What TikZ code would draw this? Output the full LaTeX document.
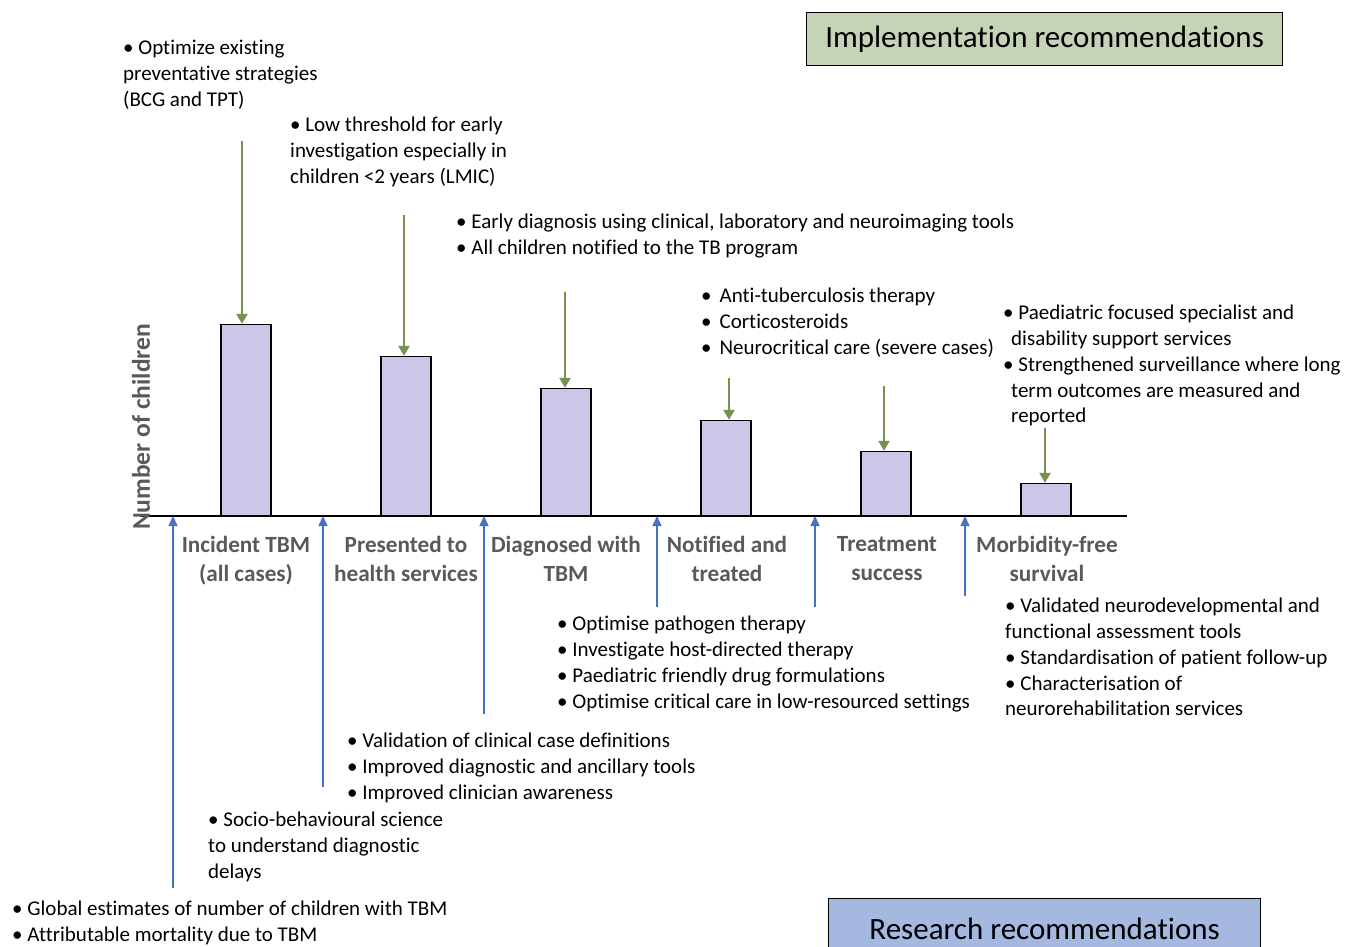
\documentclass[tikz,border=0pt]{standalone}
\usepackage{fontspec}
\setmainfont[Ligatures=NoCommon]{Carlito}
\usetikzlibrary{arrows.meta}
\definecolor{barfill}{RGB}{204,199,232}
\definecolor{impgreen}{RGB}{118,146,80}
\definecolor{implfill}{RGB}{197,211,183}
\definecolor{resfill}{RGB}{164,184,224}
\definecolor{arrblue}{RGB}{68,114,196}
\definecolor{labgray}{RGB}{89,89,89}
\begin{document}
\begin{tikzpicture}[x=1pt,y=-1pt,
  bar/.style={draw=black,line width=1.2pt,fill=barfill,minimum width=50pt,inner sep=0pt,anchor=south},
  garrow/.style={draw=impgreen,line width=2.4pt,-{Triangle[width=11pt,length=10pt]}},
  barrow/.style={draw=arrblue,line width=1.5pt,-{Triangle[width=9pt,length=10pt]}},
  cat/.style={font=\fontsize{23.2}{29}\selectfont\bfseries,text=labgray,align=center,inner sep=0pt,anchor=north},
  txt/.style={font=\fontsize{21}{25.8}\selectfont,align=left,inner sep=0pt,anchor=north west},
  recbox/.style={draw=black,line width=1.2pt,inner sep=0pt,font=\fontsize{31}{36}\selectfont}
]
\useasboundingbox (0,0) rectangle (1358,947);
% recommendation boxes
\node[recbox,fill=implfill,minimum width=476pt,minimum height=53pt,anchor=north west] (impl) at (806,12) {\raisebox{-2pt}{Implementation recommendations}};
\node[recbox,fill=resfill,minimum width=432pt,minimum height=60pt,anchor=north west] (res) at (828,898) {\raisebox{-3pt}{Research recommendations}};
% axis
\coordinate (ax0) at (140,516);
\coordinate (ax1) at (1127,516);
\draw[line width=1.2pt] (ax0) -- (ax1);
\node[rotate=90,font=\fontsize{25.5}{30}\selectfont\bfseries,text=labgray] (ylab) at (141,427) {Number of children};
% bars
\node[bar,minimum height=191pt] (b1) at (246,516) {};
\node[bar,minimum height=159pt] (b2) at (406,516) {};
\node[bar,minimum height=127pt] (b3) at (566,516) {};
\node[bar,minimum height=95pt] (b4) at (726,516) {};
\node[bar,minimum height=64pt] (b5) at (886,516) {};
\node[bar,minimum height=32pt] (b6) at (1046,516) {};
% category labels
\node[cat] (c1) at (246,536) {Incident TBM\\(all cases)};
\node[cat] (c2) at (406,536) {Presented to\\health services};
\node[cat] (c3) at (566,536) {Diagnosed with\\TBM};
\node[cat] (c4) at (727,536) {Notified and\\treated};
\node[cat] (c5) at (887,536) {Treatment\\success};
\node[cat] (c6) at (1047,536) {Morbidity-free\\survival};
% implementation texts
\node[txt] (t1) at (123,40) {• Optimize existing\\preventative strategies\\(BCG and TPT)};
\node[txt] (t2) at (290,117) {• Low threshold for early\\investigation especially in\\children <2 years (LMIC)};
\node[txt] (t3) at (456,214) {• Early diagnosis using clinical, laboratory and neuroimaging tools\\• All children notified to the TB program};
\node[txt] (t4) at (701,288) {•\hspace{8pt}Anti-tuberculosis therapy\\•\hspace{8pt}Corticosteroids\\•\hspace{8pt}Neurocritical care (severe cases)};
\node[txt] (t5) at (1003,305) {• Paediatric focused specialist and\\\hspace{8pt}disability support services\\• Strengthened surveillance where long\\\hspace{8pt}term outcomes are measured and\\\hspace{8pt}reported};
% research texts
\node[txt] (r1) at (557,616) {• Optimise pathogen therapy\\• Investigate host-directed therapy\\• Paediatric friendly drug formulations\\• Optimise critical care in low-resourced settings};
\node[txt] (r2) at (1005,598) {• Validated neurodevelopmental and\\functional assessment tools\\• Standardisation of patient follow-up\\• Characterisation of\\neurorehabilitation services};
\node[txt] (r3) at (347,733) {• Validation of clinical case definitions\\• Improved diagnostic and ancillary tools\\• Improved clinician awareness};
\node[txt] (r4) at (208,812) {• Socio-behavioural science\\to understand diagnostic\\delays};
\node[txt] (r5) at (12,901) {• Global estimates of number of children with TBM\\• Attributable mortality due to TBM};
% green arrows
\coordinate (g1) at (242,141);
\coordinate (g2) at (404,215);
\coordinate (g3) at (565,292);
\coordinate (g4) at (729,378);
\coordinate (g5) at (884,386);
\coordinate (g6) at (1045,428);
\draw[garrow] (g1) -- (g1 |- b1.north);
\draw[garrow] (g2) -- (g2 |- b2.north);
\draw[garrow] (g3) -- (g3 |- b3.north);
\draw[garrow] (g4) -- (g4 |- b4.north);
\draw[garrow] (g5) -- (g5 |- b5.north);
\draw[garrow] (g6) -- (g6 |- b6.north);
% blue arrows
\coordinate (s1) at (173,888);
\coordinate (s2) at (323,787);
\coordinate (s3) at (484,714);
\coordinate (s4) at (657,607);
\coordinate (s5) at (815,607);
\coordinate (s6) at (965,596);
\draw[barrow] (s1) -- (s1 |- ax0);
\draw[barrow] (s2) -- (s2 |- ax0);
\draw[barrow] (s3) -- (s3 |- ax0);
\draw[barrow] (s4) -- (s4 |- ax0);
\draw[barrow] (s5) -- (s5 |- ax0);
\draw[barrow] (s6) -- (s6 |- ax0);
\end{tikzpicture}
\end{document}
